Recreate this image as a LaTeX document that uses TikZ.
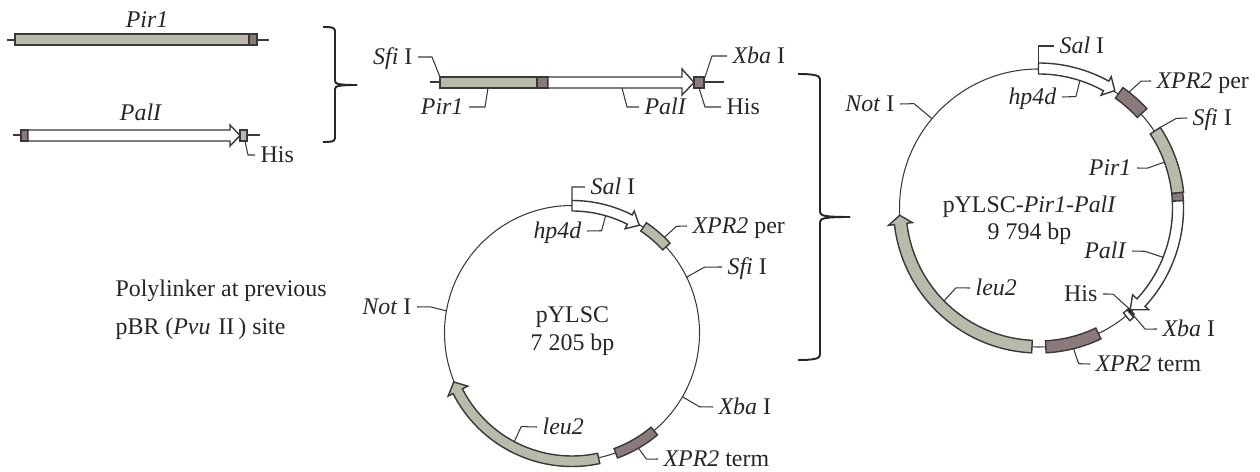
\documentclass[tikz,border=0pt]{standalone}
\usepackage{fontspec}
\setmainfont{Liberation Serif}
\usepackage{xcolor}
\usetikzlibrary{positioning,calc}

\definecolor{geneTan}{HTML}{B9BAA9}
\definecolor{geneDark}{HTML}{8B7A7B}
\definecolor{geneLine}{HTML}{3B3838}

\tikzset{
  gene/.style={draw=geneLine,line width=0.8pt,line join=miter},
  backbone/.style={draw=geneLine,line width=0.6pt},
  leader/.style={draw=geneLine,line width=0.6pt},
  bracket/.style={draw=black!85,line width=1.1pt},
  lab/.style={font=\fontsize{13.6}{15}\selectfont,text=black!85,inner xsep=3pt,inner ysep=0pt,text height=9pt,text depth=0pt},
  labW/.style={lab,anchor=west},
  labE/.style={lab,anchor=east}
}

% arc band from angle #1 to #2 between radii #3 and #4
\newcommand{\geneband}[5]{\draw[gene,fill=#5] (#1:#3) arc[start angle=#1,end angle=#2,radius=#3] -- (#2:#4) arc[start angle=#2,end angle=#1,radius=#4] -- cycle;}
% arc arrow: start, base, tip angle, inner, outer, head inner, head outer, tip radius, fill
\newcommand{\genearrow}[9]{\draw[gene,fill=#9] (#1:#4) arc[start angle=#1,end angle=#2,radius=#4] -- (#2:#6) -- (#3:#8) -- (#2:#7) -- (#2:#5) arc[start angle=#2,end angle=#1,radius=#5] -- cycle;}

\begin{document}
\begin{tikzpicture}[x=0.02cm,y=-0.02cm]
\useasboundingbox (0,0) rectangle (1260,472);

% Pir1 fragment
\draw[backbone] (7,40) -- (269,40);
\draw[gene,fill=geneTan] (15,34) rectangle (249,45);
\draw[gene,fill=geneDark] (249,34) rectangle (257,45);
\node[lab] (pirTop) at (147,20) {\textit{Pir1}};

% PalI fragment
\draw[backbone] (13,135) -- (260,135);
\draw[gene,fill=geneDark] (21,130) rectangle (28,141);
\draw[gene,fill=white] (28,130) -- (230,130) -- (230,125) -- (240,135.5) -- (230,146) -- (230,141) -- (28,141) -- cycle;
\draw[gene,fill=geneTan] (240,130) rectangle (247,141);
\node[lab] (palTop) at (141,113) {\textit{PalI}};
\node[labW] (hisTop) at (255,155) {His};
\coordinate (hisTopPt) at (245,141);
\draw[leader] (hisTopPt) -- ++(3,14) -- (hisTop.west);

% first bracket
\draw[bracket] (323,27) .. controls (330,27) and (335,27) .. (335,31) -- (335,81) .. controls (335,84) and (339,85) .. (357,85);
\draw[bracket] (323,142) .. controls (330,142) and (335,142) .. (335,138) -- (335,89) .. controls (335,86) and (339,85) .. (357,85);

% joined fragment
\draw[backbone] (430,82) -- (724,82);
\draw[gene,fill=geneTan] (440,77) rectangle (537,88);
\draw[gene,fill=geneDark] (537,77) rectangle (548,88);
\draw[gene,fill=white] (548,77) -- (682,77) -- (682,69) -- (694,82.5) -- (682,95) -- (682,88) -- (548,88) -- cycle;
\draw[gene,fill=geneDark] (694,77) rectangle (704,88);
\node[labE] (sfiMid) at (418,57) {\textit{Sfi} I};
\node[labW] (xbaMid) at (727,56) {\textit{Xba} I};
\node[labW] (hisMid) at (721,107) {His};
\node[labE] (pirMid) at (469,107) {\textit{Pir1}};
\node[labW] (palMid) at (639,107) {\textit{PalI}};
\coordinate (sfiMidPt) at (440,77);
\coordinate (xbaMidPt) at (704,80);
\coordinate (hisMidPt) at (699,88);
\coordinate (pirMidPt) at (488,88);
\coordinate (palMidPt) at (622,88);
\draw[leader] (sfiMidPt) -- ++(-8,-20) -- (sfiMid.east);
\draw[leader] (xbaMidPt) -- ++(8,-24) -- (xbaMid.west);
\draw[leader] (hisMidPt) -- ++(6,19) -- (hisMid.west);
\draw[leader] (pirMidPt) -- ++(-3,19) -- (pirMid.east);
\draw[leader] (palMidPt) -- ++(5,19) -- (palMid.west);

% polylinker note
\node[labW] (polyA) at (110,289) {Polylinker at previous};
\node[labW] (polyB) at (110,327) {pBR (\textit{Pvu}\,\,II\,) site};

% pYLSC plasmid
\begin{scope}[shift={(572,333)},y=0.02cm]
  \draw[backbone] (0,0) circle[radius=127.5];
  \genearrow{90}{63}{58}{132.5}{122}{137}{117}{127}{white}
  \geneband{56}{42.5}{133}{123}{geneTan}
  \geneband{-70}{-50}{133}{123}{geneDark}
  \genearrow{282}{207}{202.5}{133.5}{123}{139}{117}{128}{geneTan}
  \coordinate (salAPt) at (90:132.5);
  \coordinate (hpAPt) at (74:122);
  \coordinate (perAPt) at (46:133);
  \coordinate (sfiAPt) at (26:127.5);
  \coordinate (notAPt) at (170:127.5);
  \coordinate (xbaAPt) at (-30:127.5);
  \coordinate (termAPt) at (-60:133);
  \coordinate (leuAPt) at (242:123);
  \node (nameA) at (0.5,18.5) [lab] {pYLSC};
  \node (sizeA) at (0.5,-10) [lab] {7 205 bp};
\end{scope}
\node[labW] (salA) at (585,187) {\textit{Sal} I};
\node[labE] (hpA) at (587,231) {\textit{hp4d}};
\node[labW] (perA) at (687,226) {\textit{XPR2} per};
\node[labW] (sfiA) at (722,267) {\textit{Sfi} I};
\node[labE] (notA) at (417,307) {\textit{Not} I};
\node[labW] (xbaA) at (713,407) {\textit{Xba} I};
\node[labW] (termA) at (658,459) {\textit{XPR2} term};
\node[labW] (leuA) at (537,427) {\textit{leu2}};
\draw[leader] (salAPt) -- ++(0,-13.5) -- (salA.west);
\draw[leader] (hpAPt) -- ++(-4,15) -- (hpA.east);
\draw[leader] (perAPt) -- ++(12,-11) -- (perA.west);
\draw[leader] (sfiAPt) -- ++(18,-10) -- (sfiA.west);
\draw[leader] (notAPt) -- ++(-16,-4) -- (notA.east);
\draw[leader] (xbaAPt) -- ++(17,10) -- (xbaA.west);
\draw[leader] (termAPt) -- ++(8,11) -- (termA.west);
\draw[leader] (leuAPt) -- ++(7,-15) -- (leuA.west);

% second bracket
\draw[bracket] (798,74) .. controls (812,74) and (820,75) .. (820,79) -- (820,212) .. controls (820,216) and (826,217) .. (850,217);
\draw[bracket] (798,360) .. controls (812,360) and (820,359) .. (820,355) -- (820,222) .. controls (820,218) and (826,217) .. (850,217);

% pYLSC-Pir1-PalI plasmid
\begin{scope}[shift={(1038.5,208)},y=0.02cm]
  \draw[backbone] (0,0) circle[radius=139];
  \genearrow{90}{61}{57}{145}{134}{150}{129}{140}{white}
  \geneband{55}{42.5}{147}{134}{geneDark}
  \geneband{33.5}{6.2}{146}{134}{geneTan}
  \geneband{6.2}{2.9}{145}{134}{geneDark}
  \genearrow{2.9}{-42.7}{-48}{145}{134}{150}{128}{137}{white}
  \geneband{-48}{-49}{143}{135}{black}
  \geneband{-49}{-51}{145}{135}{white}
  \geneband{-64.5}{-87}{145}{133}{geneDark}
  \genearrow{267.3}{186.6}{183}{145}{132.5}{151}{127}{139}{geneTan}
  \coordinate (salBPt) at (90:145);
  \coordinate (hpBPt) at (72:134);
  \coordinate (perBPt) at (52:147);
  \coordinate (sfiBPt) at (33.5:146);
  \coordinate (notBPt) at (140:139);
  \coordinate (pirBPt) at (20:134);
  \coordinate (palBPt) at (-21.6:134);
  \coordinate (hisBPt) at (-48:136);
  \coordinate (xbaBPt) at (-48.5:139);
  \coordinate (termBPt) at (-76:145);
  \coordinate (leuBPt) at (224.5:132.5);
  \node (nameB) at (-9,3.5) [lab] {pYLSC-\textit{Pir1}-\textit{PalI}};
  \node (sizeB) at (-9,-23.5) [lab] {9 794 bp};
\end{scope}
\node[labW] (salB) at (1054,46) {\textit{Sal} I};
\node[labE] (hpB) at (1062,97) {\textit{hp4d}};
\node[labW] (perB) at (1151,81) {\textit{XPR2} per};
\node[labW] (sfiB) at (1187,118) {\textit{Sfi} I};
\node[labE] (notB) at (900,104) {\textit{Not} I};
\node[labE] (pirB) at (1137,168) {\textit{Pir1}};
\node[labE] (palB) at (1132,251) {\textit{PalI}};
\node[labE] (hisB) at (1103,294) {His};
\node[labW] (xbaB) at (1157,329) {\textit{Xba} I};
\node[labW] (termB) at (1090,364) {\textit{XPR2} term};
\node[labW] (leuB) at (970,288) {\textit{leu2}};
\draw[leader] (salBPt) -- ++(0,-17) -- (salB.west);
\draw[leader] (hpBPt) -- ++(-4,16) -- (hpB.east);
\draw[leader] (perBPt) -- ++(12,-11) -- (perB.west);
\draw[leader] (sfiBPt) -- ++(16,-9) -- (sfiB.west);
\draw[leader] (notBPt) -- ++(-18,-15) -- (notB.east);
\draw[leader] (pirBPt) -- ++(-17,6) -- (pirB.east);
\draw[leader] (palBPt) -- ++(-18,-6) -- (palB.east);
\draw[leader] (hisBPt) -- ++(-16.5,-15) -- (hisB.east);
\draw[leader] (xbaBPt) -- ++(14.5,17) -- (xbaB.west);
\draw[leader] (termBPt) -- ++(5,15) -- (termB.west);
\draw[leader] (leuBPt) -- ++(12,-13) -- (leuB.west);
\end{tikzpicture}
\end{document}
